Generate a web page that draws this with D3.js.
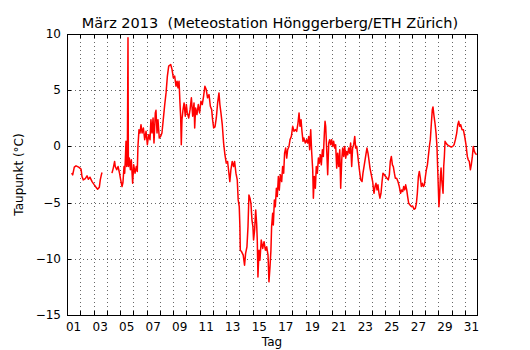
<!DOCTYPE html>
<meta charset="utf-8">
<style>
body { margin: 0; background: #fff; }
text { font-family: "DejaVu Sans", sans-serif; fill: #000; white-space: pre; }
.grid line { stroke: #000; stroke-width: 0.6; stroke-dasharray: 1,3; }
.tick line, .frame { shape-rendering: crispEdges; }
</style>
<body>
<script src="https://d3js.org/d3.v7.min.js"></script>
<script>

const width = 530,
    height = 350

// days since 1 March 00:00, dew point in °C (null = gap in the record)
const days = [0.35, 0.43, 0.55, 0.68, 0.88, 1.06, 1.13, 1.23, 1.38, 1.51, 1.61, 1.73, 1.89, 2.06, 2.19, 2.31, 2.44, 2.51, 2.59, 2.64,
    3.0,
    3.39, 3.49, 3.59, 3.64, 3.75, 3.85, 3.95, 4.05, 4.15, 4.22, 4.30, 4.35, 4.40, 4.45, 4.50, 4.55, 4.60, 4.63, 4.70, 4.78, 4.85, 4.95,
    5.03, 5.13, 5.23, 5.30, 5.35, 5.43, 5.51, 5.58, 5.66, 5.76, 5.86, 5.96, 6.06, 6.16, 6.26, 6.33, 6.41, 6.49, 6.56, 6.66, 6.71, 6.79,
    6.86, 6.96, 7.06, 7.16, 7.26, 7.37, 7.47, 7.57, 7.67, 7.82, 7.92, 8.02, 8.12, 8.22, 8.30, 8.37, 8.45, 8.52, 8.57, 8.62, 8.67, 8.75,
    8.83, 8.92, 9.00, 9.07, 9.18, 9.28, 9.38, 9.48, 9.58, 9.63, 9.70, 9.80, 9.90, 10.00, 10.10, 10.20, 10.30, 10.40, 10.50, 10.60,
    10.71, 10.81, 10.91, 10.98, 11.06, 11.16, 11.26, 11.36, 11.46, 11.53, 11.61, 11.71, 11.81, 11.91, 12.01, 12.11, 12.21, 12.28,
    12.36, 12.46, 12.56, 12.64, 12.74, 12.84, 12.91, 12.99, 13.04, 13.07, 13.17, 13.29, 13.39, 13.47, 13.57, 13.65, 13.72, 13.80,
    13.87, 13.95, 14.02, 14.07, 14.15, 14.23, 14.30, 14.35, 14.40, 14.48, 14.55, 14.65, 14.76, 14.86, 14.96, 15.06, 15.16, 15.23,
    15.31, 15.38, 15.43, 15.51, 15.56, 15.64, 15.71, 15.79, 15.86, 15.94, 16.01, 16.09, 16.19, 16.26, 16.34, 16.41, 16.49, 16.57,
    16.64, 16.74, 16.82, 16.92, 17.02, 17.12, 17.22, 17.32, 17.42, 17.50, 17.57, 17.65, 17.72, 17.80, 17.87, 17.97, 18.07, 18.15,
    18.23, 18.30, 18.38, 18.45, 18.53, 18.58, 18.65, 18.73, 18.80, 18.88, 18.96, 19.03, 19.11, 19.18, 19.26, 19.33, 19.41, 19.46,
    19.51, 19.59, 19.66, 19.74, 19.81, 19.89, 19.96, 20.04, 20.11, 20.19, 20.26, 20.34, 20.41, 20.49, 20.57, 20.64, 20.72, 20.79,
    20.87, 20.94, 21.02, 21.09, 21.17, 21.24, 21.32, 21.39, 21.47, 21.54, 21.62, 21.70, 21.77, 21.85, 21.95, 22.05, 22.15, 22.25,
    22.32, 22.42, 22.52, 22.62, 22.70, 22.77, 22.85, 22.95, 23.05, 23.15, 23.23, 23.30, 23.38, 23.45, 23.53, 23.60, 23.68, 23.76,
    23.83, 23.93, 24.03, 24.13, 24.23, 24.31, 24.38, 24.46, 24.54, 24.61, 24.69, 24.76, 24.86, 24.96, 25.06, 25.16, 25.24, 25.32,
    25.39, 25.47, 25.54, 25.62, 25.69, 25.77, 25.87, 25.97, 26.07, 26.17, 26.27, 26.35, 26.42, 26.50, 26.57, 26.65, 26.72, 26.80,
    26.88, 26.95, 27.03, 27.10, 27.18, 27.25, 27.33, 27.40, 27.48, 27.55, 27.60, 27.68, 27.75, 27.83, 27.90, 27.95, 28.00, 28.05,
    28.10, 28.16, 28.21, 28.26, 28.31, 28.36, 28.41, 28.46, 28.51, 28.58, 28.68, 28.78, 28.88, 28.98, 29.09, 29.19, 29.29, 29.39,
    29.47, 29.54, 29.62, 29.69, 29.79, 29.89, 29.99, 30.09, 30.19, 30.26, 30.34, 30.42, 30.49, 30.57, 30.64, 30.72, 30.79, 30.89]

const dewpoint = [-2.38, -2.53, -1.85, -1.73, -1.85, -2.02, -2.68, -2.98, -2.86, -2.62, -2.92, -2.74, -3.13, -3.42, -3.63, -3.81, -3.63, -2.98, -2.53, -2.32,
    null,
    -2.38, -1.93, -1.34, -1.79, -2.08, -1.79, -2.32, -2.98, -3.57, -3.21, -1.79, -2.38, -1.19, 0.45, -1.79, -1.34, 9.67, -1.79, -1.04, -2.08, -1.19, -3.27,
    -1.64, -2.38, -1.79, -2.23, 0.00, 1.49, 1.19, 1.93, 1.19, 1.64, 0.60, 1.34, 0.15, 1.04, 0.60, 2.38, 1.19, 2.53, 0.30, 2.98, 3.21, 1.19,
    2.38, 0.74, 0.89, 1.19, 2.38, 3.72, 4.76, 6.25, 7.14, 7.29, 6.85, 6.10, 6.25, 5.36, 5.80, 5.21, 5.80, 3.87, 2.68, 0.15, 2.38, 3.27,
    3.87, 2.68, 3.72, 2.98, 2.53, 3.27, 4.32, 2.68, 3.87, 1.64, 3.42, 2.83, 3.72, 2.98, 4.02, 3.72, 4.46, 5.36, 5.06, 4.32,
    4.61, 3.57, 3.27, 2.38, 1.64, 1.73, 2.53, 3.87, 4.76, 3.72, 2.98, 1.93, 0.30, -0.74, -1.49, -1.34, -2.38, -3.13,
    -2.08, -1.34, -1.79, -1.34, -2.38, -2.98, -4.76, -5.36, -7.14, -9.23, -9.38, -9.67, -10.57, -9.52, -8.93, -7.14, -4.32, -4.61,
    -5.06, -6.55, -7.14, -8.33, -7.44, -5.65, -6.85, -8.33, -11.61, -9.23, -10.12, -8.33, -9.08, -8.48, -9.23, -8.93, -9.67, -12.05,
    -10.71, -9.23, -7.14, -5.95, -6.99, -4.76, -5.36, -3.72, -4.46, -2.68, -3.87, -2.53, -3.13, -1.79, -2.38, -0.60, -0.15, -1.04,
    -0.30, 0.00, 0.60, 0.89, 1.79, 1.34, 1.49, 1.34, 2.08, 2.98, 1.79, 2.38, 1.34, 0.45, 0.74, 0.30, 0.60, 0.30,
    0.89, -0.30, 1.49, -0.45, -2.08, -4.61, -2.68, -3.72, -1.79, -2.38, -1.04, -1.49, -0.74, -1.64, -0.30, -0.89, 1.19, 2.23,
    1.79, -0.45, -2.53, 0.30, 0.60, 0.15, 0.60, 0.00, 0.45, -0.15, 0.15, -1.93, -0.60, -1.79, -0.30, -3.72, -1.19, -0.15,
    -0.89, 0.00, -1.04, -0.45, -0.74, -0.15, -0.60, 0.30, -1.79, -0.15, 0.15, 0.89, -0.15, 0.00, -1.04, -2.08, -2.98, -3.13,
    -2.38, -1.64, -0.89, -0.15, -0.60, -1.19, -1.93, -2.53, -3.13, -4.17, -3.57, -3.27, -3.87, -3.42, -4.17, -4.61, -4.17, -3.13,
    -2.38, -2.53, -2.68, -2.83, -2.98, -2.53, -1.34, -0.89, -1.64, -1.79, -2.38, -2.83, -2.83, -3.13, -3.57, -4.17, -3.87, -4.02,
    -3.57, -3.87, -3.42, -3.87, -4.46, -5.06, -5.21, -5.36, -5.30, -5.60, -5.51, -5.06, -4.17, -2.68, -2.23, -2.83, -3.57, -3.27,
    -3.57, -3.42, -2.68, -2.08, -1.64, -0.89, 0.00, 0.60, 2.08, 3.27, 3.51, 2.68, 2.08, 1.19, 0.00, -1.79, -3.57, -5.36,
    -4.46, -2.68, -1.93, -2.98, -3.57, -4.17, -1.79, -0.89, 0.45, 0.30, 0.15, 0.06, 0.00, -0.06, 0.00, 0.15, 0.60, 1.19,
    1.93, 2.23, 1.79, 1.93, 1.49, 1.49, 0.89, 0.15, -0.89, -1.19, -1.34, -2.08, -1.64, -0.89, 0.00, -0.45, -0.60, -0.74]

const yTicks = [-15, -10, -5, 0, 5, 10]
const dayTicks = d3.range(1, 31)            // midnight of 2 .. 31 March
const dayLabels = d3.range(1, 32, 2)        // 01, 03, ... 31 (placed at noon)
const xMax = 30.92

const data = days.map(function (d, i) { return { t: d, v: dewpoint[i] } })

var x = d3.scaleLinear().domain([0, xMax]).range([67, 477])
var y = d3.scaleLinear().domain([-15, 10]).range([315, 34])

var svg = d3.select('body')
    .append('svg')
    .attr('width', width)
    .attr('height', height)

// grid
var grid = svg.append('g').attr('class', 'grid')
grid.selectAll('.gx')
    .data(dayTicks)
    .enter().append('line')
    .attr('x1', function (d) { return Math.round(x(d)) + 0.5 })
    .attr('x2', function (d) { return Math.round(x(d)) + 0.5 })
    .attr('y1', y(10)).attr('y2', y(-15))
grid.selectAll('.gy')
    .data(yTicks.slice(1, -1))
    .enter().append('line')
    .attr('y1', function (d) { return Math.round(y(d)) + 0.5 })
    .attr('y2', function (d) { return Math.round(y(d)) + 0.5 })
    .attr('x1', x(0)).attr('x2', x(xMax))

// axes, matplotlib style ticks pointing inward
svg.append('g')
    .attr('transform', 'translate(0,' + y(-15) + ')')
    .call(d3.axisTop(x).tickValues(dayTicks).tickSize(4).tickFormat(''))
    .call(function (g) { g.select('.domain').remove() })
svg.append('g')
    .attr('transform', 'translate(0,' + y(10) + ')')
    .call(d3.axisBottom(x).tickValues(dayTicks).tickSize(4).tickFormat(''))
    .call(function (g) { g.select('.domain').remove() })
svg.append('g')
    .attr('transform', 'translate(' + x(0) + ',0)')
    .call(d3.axisRight(y).tickValues(yTicks).tickSize(4).tickFormat(''))
    .call(function (g) { g.select('.domain').remove() })
svg.append('g')
    .attr('transform', 'translate(' + x(xMax) + ',0)')
    .call(d3.axisLeft(y).tickValues(yTicks).tickSize(4).tickFormat(''))
    .call(function (g) { g.select('.domain').remove() })

// tick labels
svg.selectAll('.ylab')
    .data(yTicks)
    .enter().append('text')
    .attr('x', x(0) - 6)
    .attr('y', function (d) { return y(d) + 4 })
    .attr('text-anchor', 'end')
    .style('font-size', '12px')
    .text(function (d) { return d3.format('d')(d).replace('-', '\u2212') })

svg.selectAll('.xlab')
    .data(dayLabels)
    .enter().append('text')
    .attr('x', function (d) { return x(d - 0.5) })
    .attr('y', y(-15) + 16)
    .attr('text-anchor', 'middle')
    .style('font-size', '12px')
    .text(function (d) { return d3.format('02d')(d) })

// data line
var line = d3.line()
    .defined(function (d) { return d.v !== null })
    .x(function (d) { return x(d.t) })
    .y(function (d) { return y(d.v) })

svg.append('path')
    .datum(data)
    .attr('d', line)
    .attr('fill', 'none')
    .attr('stroke', '#ff0000')
    .attr('stroke-width', 1.5)
    .attr('stroke-linejoin', 'round')

// frame
svg.append('rect')
    .attr('class', 'frame')
    .attr('x', x(0)).attr('y', y(10))
    .attr('width', x(xMax) - x(0))
    .attr('height', y(-15) - y(10))
    .attr('fill', 'none')
    .attr('stroke', '#000')
    .attr('stroke-width', 1)

// titles
svg.append('text')
    .attr('x', (x(0) + x(xMax)) / 2 - 2)
    .attr('y', 28)
    .attr('text-anchor', 'middle')
    .style('font-size', '14.5px')
    .text('März 2013  (Meteostation Hönggerberg/ETH Zürich)')

svg.append('text')
    .attr('x', (x(0) + x(xMax)) / 2)
    .attr('y', 346)
    .attr('text-anchor', 'middle')
    .style('font-size', '12px')
    .text('Tag')

svg.append('text')
    .attr('transform', 'translate(23,' + (y(10) + y(-15)) / 2 + ') rotate(-90)')
    .attr('text-anchor', 'middle')
    .style('font-size', '12px')
    .text('Taupunkt (°C)')

</script>
</body>
